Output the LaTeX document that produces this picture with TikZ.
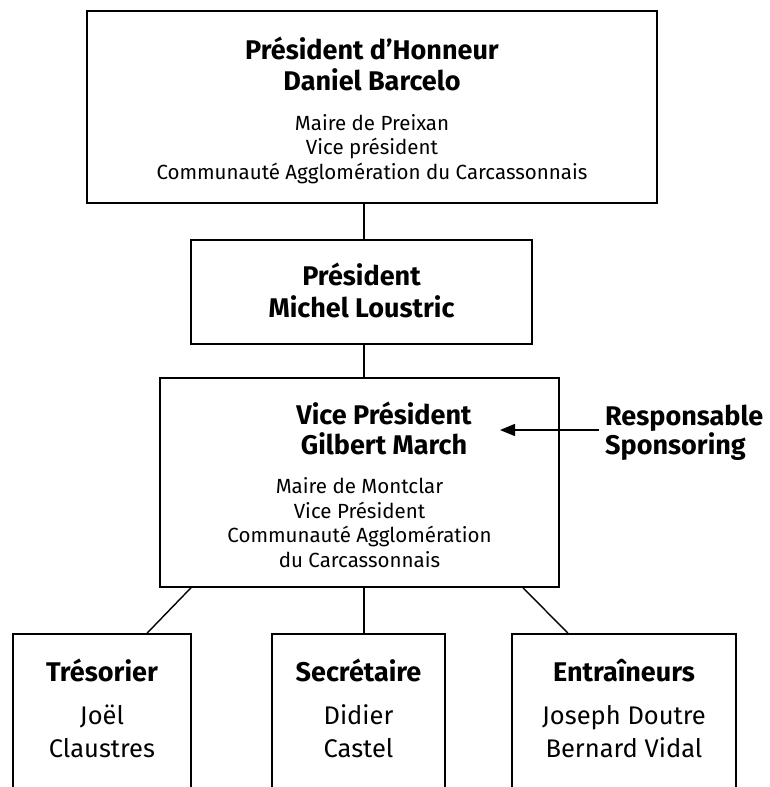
\documentclass[tikz,border=0pt]{standalone}
\usepackage{fontspec}
\setmainfont{Fira Sans}
\usetikzlibrary{arrows.meta}
\tikzset{
  box/.style={draw, line width=1.5pt, inner sep=0pt},
  txt/.style={inner sep=0pt, align=center, anchor=base, font=\fontsize{20.5}{24.5}\selectfont},
  btxt/.style={txt, font=\fontsize{25.5}{33}\selectfont},
  hdtxt/.style={inner sep=0pt, align=center, anchor=base, font=\bfseries\fontsize{27}{29.7}\selectfont},
  link/.style={line width=1.4pt},
  arr/.style={line width=1.4pt, -{Triangle[length=15pt,width=12pt]}},
}
\newcommand{\hd}[1]{{\bfseries\fontsize{27}{31}\selectfont #1}}
\begin{document}
\begin{tikzpicture}[x=1pt,y=-1pt]
\useasboundingbox (0,0) rectangle (770,787);
% boxes
\node[box, line width=2.1pt, minimum width=570pt, minimum height=192pt] (top) at (372,107) {};
\node[box, minimum width=341pt, minimum height=104pt] (pres) at (361.5,292) {};
\node[box, minimum width=399pt, minimum height=209pt] (vp) at (359.5,482.5) {};
\node[box, minimum width=178pt, minimum height=156pt] (tres) at (102,712) {};
\node[box, minimum width=173pt, minimum height=156pt] (sec) at (358.5,712) {};
\node[box, minimum width=224pt, minimum height=156pt] (ent) at (624,712) {};
% texts (anchored at the baseline of the last line)
\node[txt] (topT) at (372,179)
  {\hd{Président d’Honneur}\\[7pt]\hd{Daniel Barcelo}\\[15pt]Maire de Preixan\\Vice président\\Communauté Agglomération du Carcassonnais};
\node[txt] (presT) at (361.5,317) {\hd{Président}\\[7pt]\hd{Michel Loustric}};
\node[hdtxt] (vpH) at (384,454) {Vice Président\\Gilbert March};
\node[txt] (vpT) at (359.5,567)
  {Maire de Montclar\\Vice Président\\Communauté Agglomération\\du Carcassonnais};
\node[btxt] (tresT) at (102,757) {\hd{Trésorier}\\[10pt]Joël\\Claustres};
\node[btxt] (secT) at (358.5,757) {\hd{Secrétaire}\\[10pt]Didier\\Castel};
\node[btxt] (entT) at (624,757) {\hd{Entraîneurs}\\[10pt]Joseph Doutre\\Bernard Vidal};
\node[inner sep=0pt, anchor=base west, align=left, font=\bfseries\fontsize{27}{29}\selectfont] (resp) at (605,454)
  {Responsable\\Sponsoring};
\coordinate (tip) at (500,430);
% connectors
\draw[link] ([xshift=-8pt]top.south) -- ([xshift=2.5pt]pres.north);
\draw[link] ([xshift=2.5pt]pres.south) -- ([xshift=4.5pt]vp.north);
\draw[link] ([xshift=-168.5pt]vp.south) -- ([xshift=45pt]tres.north);
\draw[link] ([xshift=4.5pt]vp.south) -- ([xshift=5.5pt]sec.north);
\draw[link] ([xshift=163.5pt]vp.south) -- ([xshift=-56pt]ent.north);
\draw[arr] ([xshift=-6pt]tip -| resp.west) -- (tip);
\end{tikzpicture}
\end{document}
